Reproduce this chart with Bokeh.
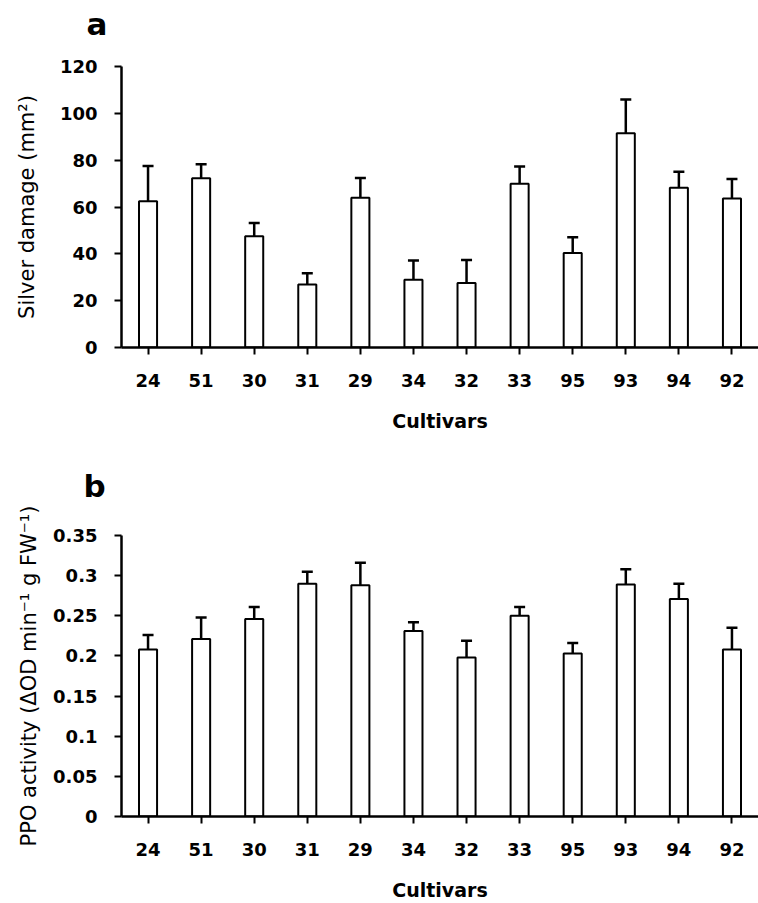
from bokeh.plotting import figure
from bokeh.models import (ColumnDataSource, FactorRange, Range1d, FixedTicker,
                          Whisker, TeeHead, NumeralTickFormatter, Title)
from bokeh.layouts import column
from bokeh.embed import file_html
from bokeh.resources import INLINE

cultivars = ["24", "51", "30", "31", "29", "34", "32", "33", "95", "93", "94", "92"]

silver_damage = [62.5, 72.3, 47.5, 26.9, 63.9, 28.9, 27.5, 69.9, 40.4, 91.5, 68.2, 63.6]
silver_err = [15.0, 6.0, 5.7, 4.8, 8.5, 8.2, 9.9, 7.4, 6.7, 14.4, 6.9, 8.4]

ppo_activity = [0.208, 0.221, 0.246, 0.290, 0.288, 0.231, 0.198, 0.250, 0.203, 0.289, 0.271, 0.208]
ppo_err = [0.018, 0.027, 0.015, 0.015, 0.028, 0.011, 0.021, 0.011, 0.013, 0.019, 0.019, 0.027]

silver_ticks = [0, 20, 40, 60, 80, 100, 120]
ppo_ticks = [0, 0.05, 0.1, 0.15, 0.2, 0.25, 0.3, 0.35]

BOLD_FONT = "DejaVu Sans"
LABEL_FONT = "DejaVu Sans"


def make_panel(letter, letter_offset, spacer, values, errs, ymax, ticks, ylabel,
               height, b_left, b_top, b_bottom, ylab_standoff, fmt=None):
    src = ColumnDataSource(dict(
        x=cultivars, top=values,
        upper=[v + e for v, e in zip(values, errs)],
    ))
    p = figure(width=758, height=height, x_range=FactorRange(factors=cultivars),
               y_range=Range1d(0, ymax), output_backend="svg",
               toolbar_location=None, min_border_left=b_left,
               min_border_right=0, min_border_top=b_top,
               min_border_bottom=b_bottom)
    p.title_location = None
    # spacer between the panel letter and the plot frame
    p.add_layout(Title(text=" ", text_font_size="1px", standoff=spacer), "above")
    p.add_layout(Title(text=letter, text_font=BOLD_FONT, text_font_style="bold",
                       text_font_size="31px", text_color="black", align="left",
                       vertical_align="bottom", offset=letter_offset, standoff=2),
                 "above")
    p.outline_line_color = None
    p.xgrid.visible = False
    p.ygrid.visible = False
    p.background_fill_color = "white"
    p.border_fill_color = "white"

    p.add_layout(Whisker(source=src, base="x", lower="top", upper="upper",
                         line_color="black", line_width=2.5,
                         upper_head=TeeHead(size=11, line_color="black", line_width=2.5),
                         lower_head=None))
    p.vbar(x="x", top="top", width=0.34, source=src, fill_color="white",
           line_color="black", line_width=2)

    for ax in (p.xaxis[0], p.yaxis[0]):
        ax.axis_line_color = "black"
        ax.axis_line_width = 2.5
        ax.major_tick_line_color = "black"
        ax.major_tick_line_width = 2
        ax.major_tick_out = 7
        ax.major_tick_in = 0
        ax.minor_tick_line_color = None
        ax.major_label_text_font = BOLD_FONT
        ax.major_label_text_font_style = "bold"
        ax.major_label_text_font_size = "18px"
        ax.major_label_text_color = "black"
        ax.axis_label_text_color = "black"

    p.xaxis.axis_label = "Cultivars"
    p.xaxis.axis_label_text_font = BOLD_FONT
    p.xaxis.axis_label_text_font_style = "bold"
    p.xaxis.axis_label_text_font_size = "19px"
    p.xaxis.major_label_standoff = 19
    p.xaxis.axis_label_standoff = 20

    p.yaxis.axis_label = ylabel
    p.yaxis.axis_label_text_font = LABEL_FONT
    p.yaxis.axis_label_text_font_style = "normal"
    p.yaxis.axis_label_text_font_size = "21px"
    p.yaxis.major_label_standoff = 17
    p.yaxis.axis_label_standoff = ylab_standoff
    p.yaxis.ticker = FixedTicker(ticks=ticks)
    if fmt is not None:
        p.yaxis.formatter = fmt
    return p


p1 = make_panel("a", -35, 21, silver_damage, silver_err, 120, silver_ticks,
                "Silver damage (mm²)", 440, 112, 66, 93, 18)
p2 = make_panel("b", -38, 28, ppo_activity, ppo_err, 0.35, ppo_ticks,
                "PPO activity (ΔOD min⁻¹ g FW⁻¹)", 463, 121, 95, 87, 9,
                fmt=NumeralTickFormatter(format="0.[00]"))

layout = column(p1, p2, spacing=0)
open("out.html", "w").write(file_html(layout, INLINE))
